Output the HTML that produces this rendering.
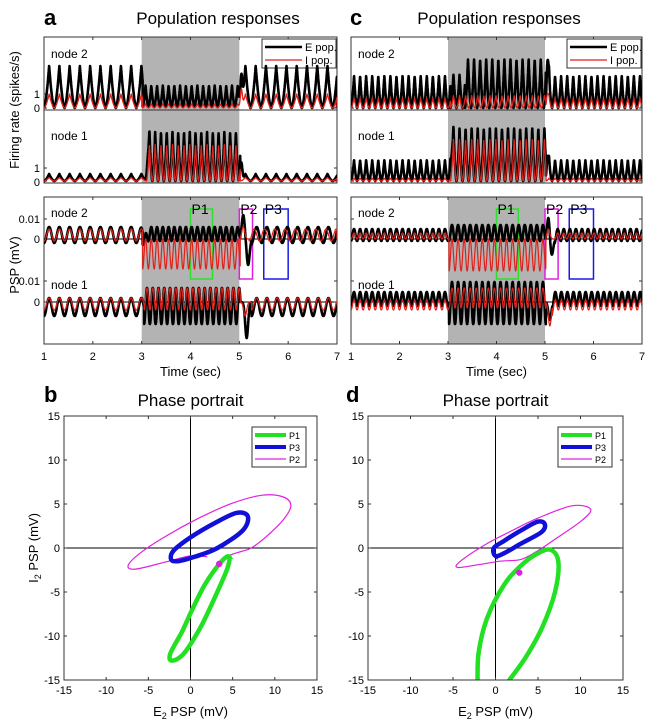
<!DOCTYPE html>
<html><head><meta charset="utf-8"><style>
html,body{margin:0;padding:0;background:#fff;}
svg{display:block;font-family:"Liberation Sans",sans-serif;}
</style></head><body>
<svg id="fig" width="646" height="721" viewBox="0 0 646 721" xmlns="http://www.w3.org/2000/svg"></svg>
<script>
// ---------- data ----------
// segment arrays per trace: [start, end, period, low, high]
const aN2E_seg=[[1,3.02,0.21,0,3],[3.02,5.02,0.118,0.1,1.6],[5.02,7,0.21,0,3]];
const aN2E_ev=[[5.04,2.2,0.02]];
const aN2I_seg=[[1,3.02,0.21,0,1],[3.02,5.02,0.118,0,0.3],[5.02,7,0.21,0,1]];
const aN2I_ev=[[5.04,1.3,0.02]];
const aN1E_seg=[[1,3.1,0.21,0,0.5],[3.1,5.02,0.118,0,3.5],[5.02,7,0.21,0,0.5]];
const aN1E_ev=[[3.12,0.9,0.02],[5.04,1.3,0.02]];
const aN1I_seg=[[1,3.1,0.21,0,0.25],[3.1,5.02,0.118,0,2.6],[5.02,7,0.21,0,0.25]];
const aN1I_ev=[];
const cN2E_seg=[[1,3.05,0.125,0,2.3],[3.05,3.35,0.125,0,2.4],[3.35,5.02,0.125,0,3.5],[5.02,7,0.125,0,2.3]];
const cN2E_ev=[[5.05,2.6,0.02]];
const cN2I_seg=[[1,3.05,0.125,0,0.7],[3.05,5.02,0.125,0,0.9],[5.02,7,0.125,0,0.7]];
const cN2I_ev=[[5.05,0.8,0.02]];
const cN1E_seg=[[1,3.05,0.125,0,1.5],[3.05,5.02,0.125,0,3.8],[5.02,7,0.125,0,1.5]];
const cN1E_ev=[[3.07,1.0,0.02],[5.05,1.2,0.02]];
const cN1I_seg=[[1,3.05,0.125,0,0.2],[3.05,5.02,0.125,0,3.0],[5.02,7,0.125,0,0.2]];
const cN1I_ev=[];
// PSP traces (units of 0.001 mV)
const aP2E_seg=[[1,3.02,0.21,-2,6],[3.02,5.02,0.118,-1,6],[5.25,7,0.21,-2,6]];
const aP2E_ev=[[3.06,-4,0.03],[5.08,12,0.03],[5.18,-13,0.03]];
const aP2I_seg=[[1,3.02,0.21,-1,5],[3.02,5.02,0.118,-15,0],[5.2,7,0.21,-1,5]];
const aP2I_ev=[[5.08,6,0.03]];
const aP1E_seg=[[1,3.05,0.21,-7,2],[3.05,5.02,0.118,-11,7],[5.25,7,0.21,-7,2]];
const aP1E_ev=[[5.15,-18,0.03]];
const aP1I_seg=[[1,3.05,0.21,-4,2],[3.05,5.02,0.118,-4,7],[5.25,7,0.21,-4,2]];
const aP1I_ev=[[5.12,-7,0.03]];
const cP2E_seg=[[1,3.02,0.125,-1,5],[3.02,5.02,0.125,-1,7],[5.2,7,0.125,-1,5]];
const cP2E_ev=[[5.07,11,0.025],[5.14,-8,0.03]];
const cP2I_seg=[[1,3.02,0.125,0,3],[3.02,5.02,0.125,-16,0],[5.2,7,0.125,0,3]];
const cP2I_ev=[[5.07,5,0.03]];
const cP1E_seg=[[1,3.02,0.125,-2,5],[3.02,5.02,0.125,-11,10],[5.15,7,0.125,-2,5]];
const cP1E_ev=[[5.1,-9,0.03]];
const cP1I_seg=[[1,3.02,0.125,-4,1],[3.02,5.02,0.125,-3,7],[5.15,7,0.125,-4,1]];
const cP1I_ev=[[5.1,-12,0.03]];
// phase portraits (E2, I2) points in mV
const bP1=[[4.6,-1],[4.3,-2.5],[2.7,-6],[1.2,-9],[-0.8,-12],[-2.2,-12.8],[-2.4,-12],[-1,-9.5],[0.2,-7],[1.8,-4],[3.7,-1.5]];
const bP3=[[-2.3,-1.3],[-2,-0.3],[0,1.2],[3,2.9],[5.5,4],[6.8,3.6],[6.2,2],[3.2,0],[0.5,-1],[-1.5,-1.5]];
const bP2=[[3.4,-1.8],[4.5,-0.9],[6,-0.4],[7.2,0],[9,1.3],[11,3.2],[11.9,4.8],[11,5.8],[8.5,6],[5,5.1],[1,3.4],[-3,1.3],[-6,-0.6],[-7.4,-2],[-6.5,-2.4],[-3,-1.6],[0,-0.9],[2,-1]];
const bDot=[3.4,-1.8];
const dP1=[[-2.1,-16],[-2,-12],[-1,-8],[1,-4.2],[3,-2],[5,-0.6],[6.5,-0.2],[7.4,-1.6],[7,-5],[5.5,-9],[3.5,-12.5],[1,-15.8]];
const dP3=[[0,-0.9],[-0.2,0],[1,0.8],[3,2],[5,3],[5.8,2.7],[5.4,1.8],[3,0.5],[1,-0.6]];
const dP2=[[-4.5,-2.2],[-4,-1.4],[-1,0.5],[2,2],[5,3.4],[9,4.8],[11.2,4.4],[10,3],[7,1],[5,-0.3],[3,-1.3],[0.5,-1.5],[-2,-1.9]];
const dDot=[2.8,-2.8];
const xTicks=[1,2,3,4,5,6,7];
const phTicks=[-15,-10,-5,0,5,10,15];

// ---------- helpers ----------
const NS="http://www.w3.org/2000/svg";
const svg=document.getElementById('fig');
function el(tag,attrs,parent,text){const e=document.createElementNS(NS,tag);for(const k in attrs)e.setAttribute(k,attrs[k]);if(text!==undefined)e.textContent=text;(parent||svg).appendChild(e);return e;}
let clipId=0;
function clip(x,y,w,h){const id='c'+(clipId++);const cp=el('clipPath',{id:id});el('rect',{x:x,y:y,width:w,height:h},cp);return 'url(#'+id+')';}
function val(t,seg,ev,mode){let v=null;
 for(const s of seg){if(t>=s[0]&&t<=s[1]){const u=((t-s[0])/s[2])%1;let c;
   if(mode==='rate'){c=Math.pow(Math.max(0,1-Math.abs(2*u-1)),1.6);}else{c=0.5-0.5*Math.cos(2*Math.PI*u);}
   v=s[3]+(s[4]-s[3])*c;}}
 if(v===null)v=0;
 for(const e of ev)v+=e[1]*Math.exp(-Math.pow((t-e[0])/e[2],2)/2);
 return v;}
function trace(seg,ev,mode,xs,ys,color,w,cp,name){let d='';for(let t=1;t<=7.0001;t+=0.003){d+=(d?'L':'M')+xs(t).toFixed(1)+' '+ys(val(t,seg,ev,mode)).toFixed(1);}
 const p=el('path',{d:d,fill:'none',stroke:color,'stroke-width':w,'clip-path':cp,'stroke-linejoin':'round'});
 
 }

function timeCol(x0,x1,withLabels,letter,ltrX,titleX,tr,name){
 const xs=t=>x0+(t-1)*(x1-x0)/6;
 const g=el('g',{});
 
 
 el('rect',{x:xs(3),y:37,width:xs(5)-xs(3),height:146,fill:'#b3b3b3'},g);
 el('rect',{x:xs(3),y:197,width:xs(5)-xs(3),height:147,fill:'#b3b3b3'},g);
 const c2=clip(x0,37,x1-x0,73),c1=clip(x0,110,x1-x0,73),cp=clip(x0,197,x1-x0,147);
 const y2=v=>108-v*14,y1=v=>181-v*14,p2=v=>239-v*2,p1=v=>302-v*2;
 trace(tr[0],tr[1],'rate',xs,y2,'#000',2.6,c2,'node2-e-rate');
 trace(tr[2],tr[3],'rate',xs,y2,'#e0201b',1.3,c2,'node2-i-rate');
 trace(tr[4],tr[5],'rate',xs,y1,'#000',2.6,c1,'node1-e-rate');
 trace(tr[6],tr[7],'rate',xs,y1,'#e0201b',1.3,c1,'node1-i-rate');
 el('line',{x1:x0,x2:x1,y1:239,y2:239,stroke:'#000','stroke-width':1},g);
 el('line',{x1:x0,x2:x1,y1:302,y2:302,stroke:'#000','stroke-width':1},g);
 trace(tr[8],tr[9],'psp',xs,p2,'#000',2.6,cp,'node2-e-psp');
 trace(tr[10],tr[11],'psp',xs,p2,'#e0201b',1.2,cp,'node2-i-psp');
 trace(tr[12],tr[13],'psp',xs,p1,'#000',2.6,cp,'node1-e-psp');
 trace(tr[14],tr[15],'psp',xs,p1,'#e0201b',1.2,cp,'node1-i-psp');
 el('rect',{x:x0,y:37,width:x1-x0,height:146,fill:'none',stroke:'#333','stroke-width':1},g);
 el('line',{x1:x0,x2:x1,y1:110,y2:110,stroke:'#333','stroke-width':1},g);
 el('rect',{x:x0,y:197,width:x1-x0,height:147,fill:'none',stroke:'#333','stroke-width':1},g);
 for(const t of xTicks){const x=xs(t);
  el('line',{x1:x,x2:x,y1:344,y2:341,stroke:'#333'},g);el('line',{x1:x,x2:x,y1:197,y2:200,stroke:'#333'},g);
  el('line',{x1:x,x2:x,y1:37,y2:40,stroke:'#333'},g);
  el('text',{x:x,y:360,'font-size':11,'text-anchor':'middle'},g,String(t));}
 el('text',{x:xs(4),y:376,'font-size':13,'text-anchor':'middle'},g,'Time (sec)');
 for(const y of [94,108,168,181,219,239,281,302]){el('line',{x1:x0,x2:x0+3,y1:y,y2:y,stroke:'#333'},g);el('line',{x1:x1,x2:x1-3,y1:y,y2:y,stroke:'#333'},g);}
 if(withLabels){
  const lab=[[94,'1'],[108,'0'],[168,'1'],[182,'0'],[219,'0.01'],[239,'0'],[281,'0.01'],[302,'0']];
  for(const l of lab)el('text',{x:x0-4,y:l[0]+4,'font-size':11,'text-anchor':'end'},g,l[1]);
  el('text',{x:0,y:0,'font-size':13,'text-anchor':'middle',transform:'translate(19,110) rotate(-90)'},g,'Firing rate (spikes/s)');
  el('text',{x:0,y:0,'font-size':13,'text-anchor':'middle',transform:'translate(19,265) rotate(-90)'},g,'PSP (mV)');
 }
 el('text',{x:x0+7,y:58,'font-size':12},g,'node 2');
 el('text',{x:x0+7,y:140,'font-size':12},g,'node 1');
 el('text',{x:x0+7,y:217,'font-size':12},g,'node 2');
 el('text',{x:x0+7,y:289,'font-size':12},g,'node 1');
 const pb=[[4,4.45,'#2ee02e','P1'],[5,5.27,'#e020e0','P2'],[5.5,6,'#1a1ae0','P3']];
 for(const b of pb){el('rect',{x:xs(b[0]),y:209,width:xs(b[1])-xs(b[0]),height:70,fill:'none',stroke:b[2],'stroke-width':1.5},g);
  el('text',{x:xs(b[0])+1,y:214,'font-size':14},g,b[3]);}
 const lx=x1-75;
 const lg=el('g',{},g);
 
 
 el('rect',{x:lx,y:39,width:74,height:29,fill:'#fff',stroke:'#333'},lg);
 el('line',{x1:lx+3,x2:lx+40,y1:47,y2:47,stroke:'#000','stroke-width':2.5},lg);
 el('line',{x1:lx+3,x2:lx+40,y1:60,y2:60,stroke:'#e0201b','stroke-width':1.3},lg);
 el('text',{x:lx+43,y:51,'font-size':11},lg,'E pop.');
 el('text',{x:lx+43,y:64,'font-size':11},lg,'I pop.');
 el('text',{x:ltrX,y:25,'font-size':22,'font-weight':'bold'},g,letter);
 el('text',{x:titleX,y:24,'font-size':17,'text-anchor':'middle'},g,'Population responses');
}

function smooth(pts,closed,xs,ys){const P=pts.map(p=>[xs(p[0]),ys(p[1])]);const n=P.length;let d='M'+P[0][0]+' '+P[0][1];
 const get=i=>closed?P[(i+n)%n]:P[Math.max(0,Math.min(n-1,i))];
 const m=closed?n:n-1;
 for(let i=0;i<m;i++){const p0=get(i-1),p1=get(i),p2=get(i+1),p3=get(i+2);
  d+='C'+(p1[0]+(p2[0]-p0[0])/6).toFixed(1)+' '+(p1[1]+(p2[1]-p0[1])/6).toFixed(1)+' '+(p2[0]-(p3[0]-p1[0])/6).toFixed(1)+' '+(p2[1]-(p3[1]-p1[1])/6).toFixed(1)+' '+p2[0].toFixed(1)+' '+p2[1].toFixed(1);}
 return d+(closed?'Z':'');}

function phase(x0,x1,letter,ltrX,ylab,p1,p3,p2,p2closed,dot,name){
 const y0=416,y1=680;const xs=v=>x0+(v+15)*(x1-x0)/30, ys=v=>y1-(v+15)*(y1-y0)/30;
 const g=el('g',{});
 
 
 const cp=clip(x0,y0,x1-x0,y1-y0);
 el('line',{x1:xs(0),x2:xs(0),y1:y0,y2:y1,stroke:'#000'},g);
 el('line',{x1:x0,x2:x1,y1:ys(0),y2:ys(0),stroke:'#000'},g);
 const a=el('path',{d:smooth(p2,p2closed,xs,ys),fill:'none',stroke:'#e020e0','stroke-width':1.2,'clip-path':cp},g);
 
 
 const b=el('path',{d:smooth(p1,name==='phase-b',xs,ys),fill:'none',stroke:'#22e022','stroke-width':4.5,'clip-path':cp},g);
 
 
 const c=el('path',{d:smooth(p3,true,xs,ys),fill:'none',stroke:'#1010d8','stroke-width':4.5,'clip-path':cp},g);
 
 
 el('circle',{cx:xs(dot[0]),cy:ys(dot[1]),r:3.2,fill:'#e020e0'},g);
 el('rect',{x:x0,y:y0,width:x1-x0,height:y1-y0,fill:'none',stroke:'#333'},g);
 for(const t of phTicks){el('line',{x1:xs(t),x2:xs(t),y1:y1,y2:y1-3,stroke:'#333'},g);el('line',{x1:xs(t),x2:xs(t),y1:y0,y2:y0+3,stroke:'#333'},g);
  el('line',{x1:x0,x2:x0+3,y1:ys(t),y2:ys(t),stroke:'#333'},g);el('line',{x1:x1,x2:x1-3,y1:ys(t),y2:ys(t),stroke:'#333'},g);
  el('text',{x:xs(t),y:694,'font-size':11,'text-anchor':'middle'},g,String(t));
  el('text',{x:x0-4,y:ys(t)+4,'font-size':11,'text-anchor':'end'},g,String(t));}
 const xl=el('text',{x:(x0+x1)/2,y:716,'font-size':13,'text-anchor':'middle'},g);
 xl.innerHTML='E<tspan font-size="9" dy="3">2</tspan><tspan dy="-3"> PSP (mV)</tspan>';
 if(ylab){const yl=el('text',{x:0,y:0,'font-size':13,'text-anchor':'middle',transform:'translate(38,548) rotate(-90)'},g);
  yl.innerHTML='I<tspan font-size="9" dy="3">2</tspan><tspan dy="-3"> PSP (mV)</tspan>';}
 const lx=x1-65;const lg=el('g',{},g);
 
 
 el('rect',{x:lx,y:427,width:54,height:40,fill:'#fff',stroke:'#333'},lg);
 el('line',{x1:lx+3,x2:lx+34,y1:435,y2:435,stroke:'#22e022','stroke-width':4},lg);
 el('line',{x1:lx+3,x2:lx+34,y1:447,y2:447,stroke:'#1010d8','stroke-width':4},lg);
 el('line',{x1:lx+3,x2:lx+34,y1:459,y2:459,stroke:'#e020e0','stroke-width':1.2},lg);
 el('text',{x:lx+37,y:439,'font-size':9},lg,'P1');
 el('text',{x:lx+37,y:451,'font-size':9},lg,'P3');
 el('text',{x:lx+37,y:463,'font-size':9},lg,'P2');
 el('text',{x:ltrX,y:402,'font-size':22,'font-weight':'bold'},g,letter);
 el('text',{x:(x0+x1)/2,y:406,'font-size':17,'text-anchor':'middle'},g,'Phase portrait');
}

timeCol(44,337,true,'a',44,218,[aN2E_seg,aN2E_ev,aN2I_seg,aN2I_ev,aN1E_seg,aN1E_ev,aN1I_seg,aN1I_ev,aP2E_seg,aP2E_ev,aP2I_seg,aP2I_ev,aP1E_seg,aP1E_ev,aP1I_seg,aP1I_ev],'panel-a');
timeCol(351,642,false,'c',350,499,[cN2E_seg,cN2E_ev,cN2I_seg,cN2I_ev,cN1E_seg,cN1E_ev,cN1I_seg,cN1I_ev,cP2E_seg,cP2E_ev,cP2I_seg,cP2I_ev,cP1E_seg,cP1E_ev,cP1I_seg,cP1I_ev],'panel-c');
phase(64,317,'b',44,true,bP1,bP3,bP2,false,bDot,'phase-b');
phase(368,623,'d',346,false,dP1,dP3,dP2,true,dDot,'phase-d');
</script>
</body></html>
